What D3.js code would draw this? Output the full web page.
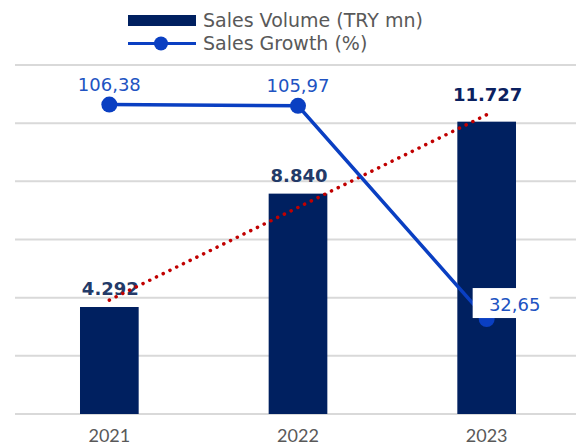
<!DOCTYPE html>
<html>
<head>
<meta charset="utf-8">
<script src="https://d3js.org/d3.v7.min.js"></script>
<style>
    body { margin: 0; background: #ffffff; }
    svg { display: block; }
</style>
</head>
<body>
<div id="chart"></div>
<script>

// chart data
let years = ["2021", "2022", "2023"];
let salesVolume = [4292, 8840, 11727];
let salesGrowth = [106.38, 105.97, 32.65];
let volumeLabels = ["4.292", "8.840", "11.727"];
let growthLabels = ["106,38", "105,97", "32,65"];
let growthTicks = [0, 20, 40, 60, 80, 100, 120];
let legendNames = ["Sales Volume (TRY mn)", "Sales Growth (%)"];


/**
 * Draws the chart once the page has loaded.
 */
window.onload = function() {
    main();
};


function main() {
    let w = 576;
    let h = 445;
    let plot = {left: 15, right: 581, top: 65, bottom: 414};

    let svg = d3.select("#chart")
                .append("svg")
                .attr("width", w)
                .attr("height", h);

    // scales: bars on hidden primary axis, line on hidden secondary axis
    let xScale = d3.scaleBand()
                   .domain(years)
                   .range([plot.left, plot.right])
                   .paddingInner(0.689)
                   .paddingOuter(0.3445);

    let yBar = d3.scaleLinear()
                 .domain([0, 14000])
                 .range([plot.bottom, plot.top]);

    let yLine = d3.scaleLinear()
                  .domain([0, 120])
                  .range([plot.bottom, plot.top]);

    let center = function(d) {
        return xScale(d) + xScale.bandwidth() / 2;
    };

    // gridlines
    svg.append("g")
       .selectAll("line")
       .data(growthTicks)
       .enter()
       .append("line")
       .attr("x1", plot.left)
       .attr("x2", w)
       .attr("y1", function(d) { return yLine(d); })
       .attr("y2", function(d) { return yLine(d); })
       .attr("stroke", "#d9d9d9")
       .attr("stroke-width", 2);

    // bars
    svg.append("g")
       .selectAll("rect")
       .data(salesVolume)
       .enter()
       .append("rect")
       .attr("x", function(d, i) { return xScale(years[i]); })
       .attr("y", function(d) { return yBar(d); })
       .attr("width", xScale.bandwidth())
       .attr("height", function(d) { return yBar(0) - yBar(d); })
       .attr("fill", "#002060");

    // x axis labels
    svg.append("g")
       .selectAll("text")
       .data(years)
       .enter()
       .append("text")
       .attr("x", center)
       .attr("y", 442)
       .attr("text-anchor", "middle")
       .style("font-family", "Lato, sans-serif")
       .style("font-size", "18px")
       .attr("fill", "#595959")
       .text(function(d) { return d; });

    // bar value labels
    let barLabelShift = [12, 12, 21];
    let barLabelColor = ["#233a68", "#233a68", "#0b2160"];
    svg.append("g")
       .selectAll("text")
       .data(salesVolume)
       .enter()
       .append("text")
       .attr("x", function(d, i) { return center(years[i]) + 1; })
       .attr("y", function(d, i) { return yBar(d) - barLabelShift[i]; })
       .attr("text-anchor", "middle")
       .style("font-family", "'DejaVu Sans', Verdana, sans-serif")
       .style("font-size", "18px")
       .style("font-weight", "bold")
       .attr("fill", function(d, i) { return barLabelColor[i]; })
       .text(function(d, i) { return volumeLabels[i]; });

    // linear trend line of sales volume (least squares), drawn over labels
    let n = salesVolume.length;
    let meanX = (n - 1) / 2;
    let meanY = d3.mean(salesVolume);
    let num = 0, den = 0;
    for (let i = 0; i < n; i++) {
        num += (i - meanX) * (salesVolume[i] - meanY);
        den += (i - meanX) * (i - meanX);
    }
    let slope = num / den;
    let intercept = meanY - slope * meanX;

    svg.append("line")
       .attr("x1", center(years[0]))
       .attr("y1", yBar(intercept))
       .attr("x2", center(years[n - 1]))
       .attr("y2", yBar(intercept + slope * (n - 1)))
       .attr("stroke", "#c00000")
       .attr("stroke-width", 3.5)
       .attr("stroke-linecap", "round")
       .attr("stroke-dasharray", "0.1 7.4");

    // growth line
    let line = d3.line()
                 .x(function(d, i) { return center(years[i]); })
                 .y(function(d) { return yLine(d); });

    svg.append("path")
       .datum(salesGrowth)
       .attr("d", line)
       .attr("fill", "none")
       .attr("stroke", "#0a3fc2")
       .attr("stroke-width", 3.5);

    svg.append("g")
       .selectAll("circle")
       .data(salesGrowth)
       .enter()
       .append("circle")
       .attr("cx", function(d, i) { return center(years[i]); })
       .attr("cy", function(d) { return yLine(d); })
       .attr("r", 8)
       .attr("fill", "#0a3fc2");

    // growth value labels, last one sits in a white box right of point
    let last = n - 1;
    svg.append("rect")
       .attr("x", center(years[last]) - 14)
       .attr("y", yLine(salesGrowth[last]) - 31)
       .attr("width", 77)
       .attr("height", 30)
       .attr("fill", "#ffffff");

    svg.append("g")
       .selectAll("text")
       .data(salesGrowth)
       .enter()
       .append("text")
       .attr("x", function(d, i) {
           return i == last ? center(years[i]) + 28 : center(years[i]);
       })
       .attr("y", function(d, i) {
           return i == last ? yLine(d) - 8 : yLine(d) - 14;
       })
       .attr("text-anchor", "middle")
       .style("font-family", "'DejaVu Sans', Verdana, sans-serif")
       .style("font-size", "18px")
       .attr("fill", "#2153c2")
       .text(function(d, i) { return growthLabels[i]; });

    // legend
    let legend = svg.append("g")
                    .attr("transform", "translate(128,0)");

    legend.append("rect")
          .attr("x", 0)
          .attr("y", 15)
          .attr("width", 68)
          .attr("height", 11)
          .attr("fill", "#002060");

    legend.append("line")
          .attr("x1", 0)
          .attr("x2", 68)
          .attr("y1", 43.5)
          .attr("y2", 43.5)
          .attr("stroke", "#0a3fc2")
          .attr("stroke-width", 3);

    legend.append("circle")
          .attr("cx", 33)
          .attr("cy", 43.5)
          .attr("r", 7)
          .attr("fill", "#0a3fc2");

    legend.selectAll("text")
          .data(legendNames)
          .enter()
          .append("text")
          .attr("x", 75)
          .attr("y", function(d, i) { return 27 + i * 23; })
          .style("font-family", "'DejaVu Sans', Verdana, sans-serif")
          .style("font-size", "19px")
          .attr("fill", "#595959")
          .text(function(d) { return d; });
}
</script>
</body>
</html>
